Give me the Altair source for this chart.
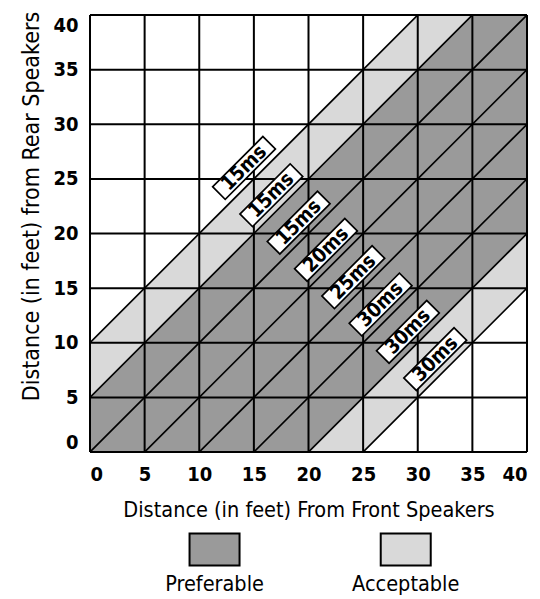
import altair as alt
import pandas as pd

# ---- data ----
ticks = [0, 5, 10, 15, 20, 25, 30, 35, 40]
diag_offsets = [10, 5, 0, -5, -10, -15, -20, -25]          # lines y = x + c
label_texts = ["15ms", "15ms", "15ms", "20ms", "25ms", "30ms", "30ms", "30ms"]
label_x = [14.1, 16.6, 19.1, 21.6, 24.1, 26.6, 29.1, 31.6]
label_y = [26.0, 23.5, 21.0, 18.5, 16.0, 13.5, 11.0, 8.5]
band_names = ["Acceptable", "Preferable"]
band_low = [-25, -20]      # band lower edge: y = x + low
band_high = [10, 5]        # band upper edge: y = x + high
band_colors = ["#d9d9d9", "#9a9a9a"]
legend_names = ["Preferable", "Acceptable"]
legend_colors = ["#9a9a9a", "#d9d9d9"]
legend_x = [11.4, 28.9]
x_ends = [0, 40]

FONT = "DejaVu Sans Condensed"
W = H = 437

band_df = pd.DataFrame(
    [{"band": n, "x": xv, "low": lo, "high": hi, "color": c}
     for n, lo, hi, c in zip(band_names, band_low, band_high, band_colors)
     for xv in x_ends]
)
tick_df = pd.DataFrame({"t": ticks})
diag_df = pd.DataFrame({"c": diag_offsets})
label_df = pd.DataFrame({"x": label_x, "y": label_y, "text": label_texts})
legend_df = pd.DataFrame({"x": legend_x, "name": legend_names, "color": legend_colors})

xs = alt.Scale(domain=[0, 40], nice=False, zero=False)
ys = alt.Scale(domain=[0, 40], nice=False, zero=False)

xax = alt.Axis(values=ticks, grid=False, domain=False, ticks=False, tickSize=0,
               labelFont=FONT, labelFontSize=20, labelFontWeight="bold",
               labelColor="black", labelPadding=12, labelFlush=True,
               title="Distance (in feet) From Front Speakers",
               titleFont=FONT, titleFontSize=21.5, titleFontWeight="normal",
               titleColor="black", titleY=64.5, titleBaseline="alphabetic")
yax = alt.Axis(values=ticks, grid=False, domain=False, ticks=False, tickSize=0,
               labelFont=FONT, labelFontSize=20, labelFontWeight="bold",
               labelColor="black", labelPadding=12, labelFlush=True,
               title="Distance (in feet) from Rear Speakers",
               titleFont=FONT, titleFontSize=23, titleFontWeight="normal",
               titleColor="black", titleX=-52, titleY=191, titleAngle=270,
               titleAlign="center", titleBaseline="alphabetic")


def band_layer(name):
    return (
        alt.Chart(band_df)
        .transform_filter(alt.datum.band == name)
        .transform_calculate(y0="datum.x + datum.low", y1="datum.x + datum.high")
        .mark_area(clip=True, opacity=1)
        .encode(
            x=alt.X("x:Q", scale=xs, axis=xax),
            y=alt.Y("y0:Q", scale=ys, axis=yax),
            y2="y1:Q",
            fill=alt.Fill("color:N", scale=None),
        )
    )


vgrid = alt.Chart(tick_df).mark_rule(color="black", strokeWidth=2).encode(
    x=alt.X("t:Q", scale=xs, axis=xax))
hgrid = alt.Chart(tick_df).mark_rule(color="black", strokeWidth=2).encode(
    y=alt.Y("t:Q", scale=ys, axis=yax))

diags = (
    alt.Chart(diag_df)
    .transform_calculate(x0="0", x1="40", y0="datum.c", y1="datum.c + 40")
    .mark_rule(clip=True, color="black", strokeWidth=1.7)
    .encode(
        x=alt.X("x0:Q", scale=xs, axis=xax), x2="x1:Q",
        y=alt.Y("y0:Q", scale=ys, axis=yax), y2="y1:Q",
    )
)

BOX = "M -1 -0.25 L 1 -0.25 L 1 0.25 L -1 0.25 Z"
boxes = alt.Chart(label_df).mark_point(
    shape=BOX, size=5041, angle=315, filled=True, fill="white",
    stroke="black", strokeWidth=1.7, opacity=1,
).encode(x=alt.X("x:Q", scale=xs, axis=xax), y=alt.Y("y:Q", scale=ys, axis=yax))

texts = alt.Chart(label_df).mark_text(
    angle=315, font=FONT, fontSize=20, fontWeight="bold", color="black",
    align="center", baseline="middle",
).encode(x=alt.X("x:Q", scale=xs, axis=xax), y=alt.Y("y:Q", scale=ys, axis=yax),
         text="text:N")

LEG = "M -1 -0.64 L 1 -0.64 L 1 0.64 L -1 0.64 Z"
leg_boxes = alt.Chart(legend_df).mark_point(
    shape=LEG, size=2500, filled=True, stroke="black", strokeWidth=2, opacity=1,
).encode(x=alt.X("x:Q", scale=xs, axis=xax), y=alt.value(534.5),
         fill=alt.Fill("color:N", scale=None))

leg_texts = alt.Chart(legend_df).mark_text(
    font=FONT, fontSize=21.5, color="black", align="center", baseline="alphabetic",
).encode(x=alt.X("x:Q", scale=xs, axis=xax), y=alt.value(576), text="name:N")

chart = (
    alt.layer(band_layer("Acceptable"), band_layer("Preferable"), vgrid, hgrid,
              diags, boxes, texts, leg_boxes, leg_texts)
    .properties(width=W, height=H,
                autosize=alt.AutoSizeParams(type="none"),
                padding={"left": 82, "top": 7, "right": 4, "bottom": 145})
    .configure_view(strokeWidth=0)
)

chart.save("out.html", embed_options={"renderer": "svg", "actions": False})
